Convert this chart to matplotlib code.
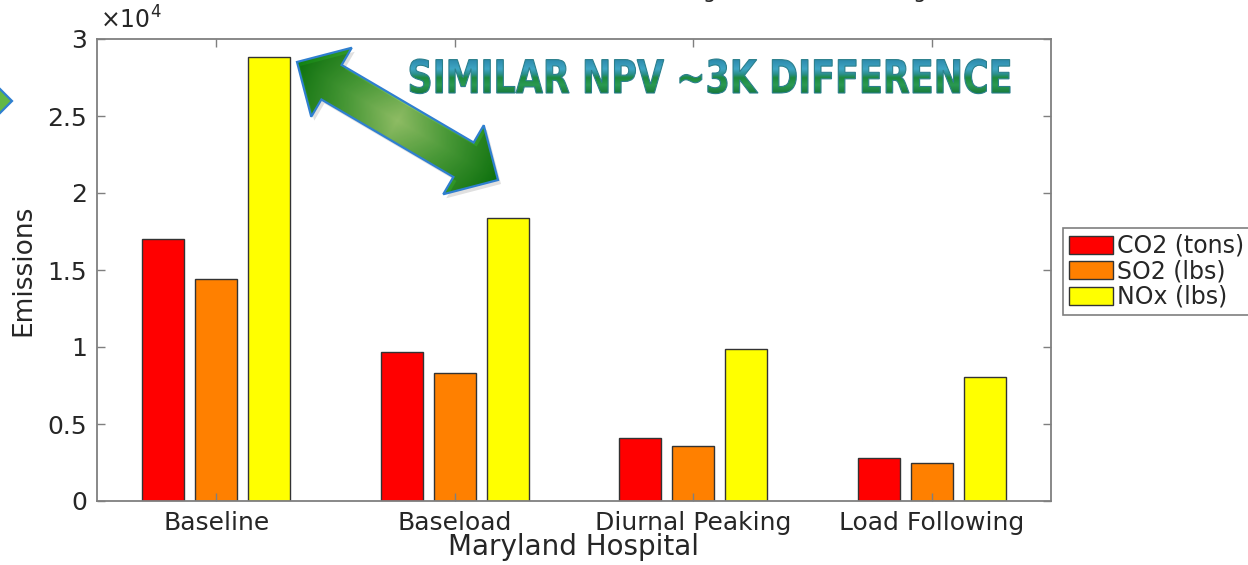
import numpy as np
import matplotlib
matplotlib.use('Agg')
import matplotlib.pyplot as plt
from matplotlib.patches import Polygon, PathPatch
from matplotlib.colors import LinearSegmentedColormap
from matplotlib.ticker import FuncFormatter
from matplotlib.textpath import TextPath
from matplotlib.font_manager import FontProperties
from matplotlib.transforms import Affine2D

# values
strategies = ['Baseline', 'Baseload', 'Diurnal Peaking', 'Load Following']
co2 = [17000, 9700, 4100, 2800]
so2 = [14400, 8300, 3600, 2500]
nox = [28800, 18400, 9900, 8050]
series_names = ['CO2 (tons)', 'SO2 (lbs)', 'NOx (lbs)']
series_colors = ['#ff0000', '#ff8000', '#ffff00']
# legend of the chart above, cut off at the top edge
top_labels = ['Baseline', 'Baseload', 'Diurnal Peaking', 'Load Following']
note = 'SIMILAR NPV ~3K DIFFERENCE'

W, H = 1248, 565
txt = '#262626'
grey = '#7f7f7f'

fig = plt.figure(figsize=(W / 100, H / 100), dpi=100)
ax = fig.add_axes([97 / W, 1 - 501 / H, (1051 - 97) / W, (501 - 39) / H])

x = np.arange(1, len(strategies) + 1)
pitch = 0.222
width = 0.176
for i, (vals, name, col) in enumerate(zip([co2, so2, nox], series_names, series_colors)):
    ax.bar(x + (i - 1) * pitch, vals, width, color=col, edgecolor='#333333',
           linewidth=1, label=name)

ax.set_xlim(0.5, 4.5)
ax.set_ylim(0, 30000)
ax.set_yticks(np.arange(0, 30001, 5000))
ax.yaxis.set_major_formatter(FuncFormatter(lambda v, p: '%g' % (v / 1e4)))
ax.set_xticks(x)
ax.set_xticklabels(strategies)
ax.tick_params(direction='in', length=6, width=1, color=grey, top=True, right=True,
               labelsize=18, labelcolor=txt, pad=7)
for s in ax.spines.values():
    s.set_color(grey)
    s.set_linewidth(1.3)
ax.set_ylabel('Emissions', fontsize=19, color=txt, labelpad=8)
ax.set_xlabel('Maryland Hospital', fontsize=20, color=txt, labelpad=-1)
ax.text(0.003, 1.012, r'$\times10^{4}$', transform=ax.transAxes, fontsize=17,
        color=txt, va='bottom', ha='left')

h, l = ax.get_legend_handles_labels()
leg = fig.legend(h, l, loc='upper left', bbox_to_anchor=(1063 / W, 1 - 228 / H),
                 fontsize=17, frameon=True, fancybox=False, edgecolor=grey,
                 framealpha=1, borderpad=0.25, labelspacing=0.06, handlelength=1.85,
                 handleheight=0.8, handletextpad=0.2, borderaxespad=0)
leg.get_frame().set_linewidth(1.2)
for t in leg.get_texts():
    t.set_color(txt)

for lab, px in zip(top_labels, [171, 370, 553, 772]):
    fig.text(px / W, 1 + 2 / H, lab, fontsize=15, color=txt, va='baseline')

# overlay in pixel coordinates for the slide annotations
ov = fig.add_axes([0, 0, 1, 1], zorder=5)
ov.axis('off')


def double_arrow(p0, p1, half_shaft, half_head, head_len):
    p0 = np.array(p0, float)
    p1 = np.array(p1, float)
    u = (p1 - p0) / np.hypot(*(p1 - p0))
    n = np.array([-u[1], u[0]])
    b0 = p0 + u * head_len
    b1 = p1 - u * head_len
    pts = [p0, b0 - n * half_head, b0 - n * half_shaft, b1 - n * half_shaft,
           b1 - n * half_head, p1, b1 + n * half_head, b1 + n * half_shaft,
           b0 + n * half_shaft, b0 + n * half_head]
    return np.array(pts), p0, p1, u, n


pts, p0, p1, u, n = double_arrow((297, 62), (498, 180), 20, 40, 40)
ov.add_patch(Polygon(pts + np.array([3, 4]), closed=True, facecolor='#000000', alpha=0.12,
                     edgecolor='none'))
xmin, ymin = pts.min(axis=0)
xmax, ymax = pts.max(axis=0)
gx, gy = np.meshgrid(np.linspace(xmin, xmax, 200), np.linspace(ymin, ymax, 200))
L = np.hypot(*(p1 - p0))
tt = ((gx - p0[0]) * u[0] + (gy - p0[1]) * u[1]) / L
ss = np.abs((gx - p0[0]) * n[0] + (gy - p0[1]) * n[1]) / 40
Z = np.clip(1 - np.abs(2 * tt - 1), 0, 1) * (1 - 0.3 * np.clip(ss, 0, 1))
green = LinearSegmentedColormap.from_list('g', ['#0f8010', '#52ad3e', '#a2d672'])
im = ov.imshow(Z, extent=(xmin, xmax, ymax, ymin), origin='upper', cmap=green,
               aspect='auto', interpolation='bilinear')
arrow = Polygon(pts, closed=True, facecolor='none', edgecolor='#2f7fd0', linewidth=1.6)
ov.add_patch(arrow)
im.set_clip_path(arrow)

# arrow tip sticking in from the left edge
ov.add_patch(Polygon([(12, 101), (-25, 64), (-25, 138)], closed=True, facecolor='#62b846',
                     edgecolor='#2f7fd0', linewidth=1.6))

# condensed bold word-art text, squeezed to the reference box
tp = TextPath((0, 0), note, size=1, prop=FontProperties(family='DejaVu Sans', weight='bold'))
ext = tp.get_extents()
tx0, tx1, ttop, tbase = 410, 1010, 59, 93
tr = Affine2D().translate(-ext.x0, 0).scale((tx1 - tx0) / ext.width,
                                             -(tbase - ttop) / ext.y1).translate(tx0, tbase)
tpatch = PathPatch(tr.transform_path(tp), facecolor='none', edgecolor='#2a7f8c', lw=0.8)
ov.add_patch(tpatch)
wordart = LinearSegmentedColormap.from_list(
    'w', [(0, '#2a86a8'), (0.3, '#3fa6c4'), (0.45, '#2b8f8a'), (0.55, '#1d8a3e'),
          (0.75, '#2a9a52'), (1, '#17783a')])
tg = np.linspace(0, 1, 100)[:, None] * np.ones((1, 4))
im2 = ov.imshow(tg, extent=(tx0, tx1, tbase + 1, ttop - 1), origin='upper', cmap=wordart,
                aspect='auto', interpolation='bilinear')
im2.set_clip_path(tpatch)

ov.set_xlim(0, W)
ov.set_ylim(H, 0)

fig.savefig('out.png', dpi=100)
